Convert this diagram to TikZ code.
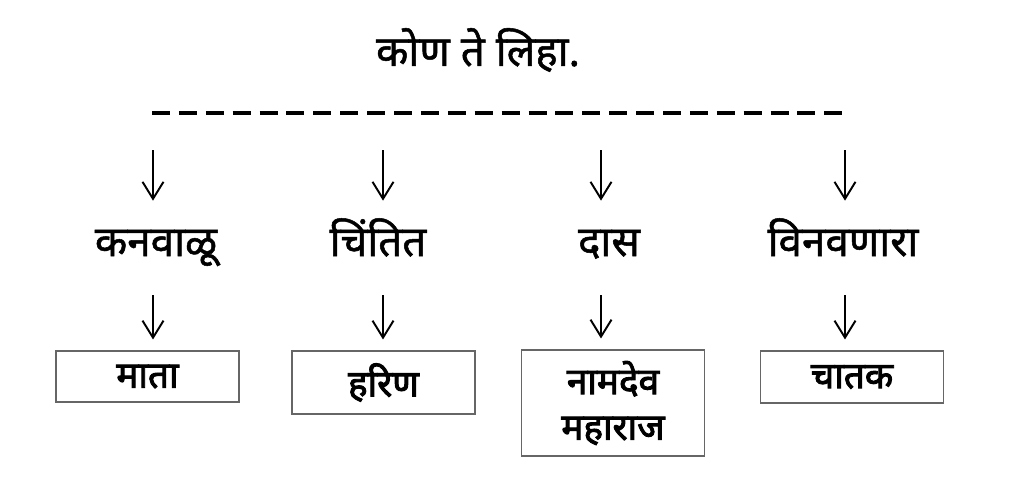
\documentclass[tikz,border=0pt]{standalone}
\usepackage{fontspec}
\setmainfont{Noto Sans}[Script=Devanagari, AutoFakeBold=2.6]
\newfontfamily\wordfont{Noto Sans}[Script=Devanagari, FakeBold=1.2]
\usetikzlibrary{arrows.meta}

\begin{document}
\begin{tikzpicture}[
        x=0.02cm, y=-0.02cm,
        heading/.style={font=\wordfont\fontsize{24}{28}\selectfont},
        word/.style={font=\wordfont\fontsize{24}{28}\selectfont, inner sep=0pt,
            anchor=base, text height=1.1cm, text depth=0.78cm},
        answer/.style={rectangle, draw=black!60, line width=0.6pt, minimum width=3.66cm,
            font=\bfseries\fontsize{21}{26}\selectfont, align=center},
        arrow/.style={-{Straight Barb[length=0.34cm, width=0.42cm]}, line width=1.1pt}
    ]
        \useasboundingbox (0,0) rectangle (1024,490);

        % Heading
        \node[heading] (title) at (478,50) {कोण ते लिहा.};

        % Dashed rule
        \coordinate (ruleL) at (152,113);
        \coordinate (ruleR) at (843,113);
        \draw[line width=2.8pt, dash pattern=on 0.36cm off 0.178cm] (ruleL) -- (ruleR);

        % Arrow starts below the rule
        \coordinate (t1) at (153,150);
        \coordinate (t2) at (383,150);
        \coordinate (t3) at (601,150);
        \coordinate (t4) at (845,150);

        % Words
        \node[word] (w1) at (156,256) {कनवाळू};
        \node[word] (w2) at (378,256) {चिंतित};
        \node[word] (w3) at (609,256) {दास};
        \node[word] (w4) at (843,256) {विनवणारा};

        % Answers
        \node[answer, minimum height=1.02cm] (a1) at (147.5,376.5) {माता};
        \node[answer, minimum height=1.26cm] (a2) at (383.5,382.5) {हरिण};
        \node[answer, minimum height=2.12cm] (a3) at (613,403) {नामदेव\\महाराज};
        \node[answer, minimum height=1.04cm] (a4) at (852,377) {चातक};

        % Arrows
        \draw[arrow] (t1) -- (t1 |- w1.north);
        \draw[arrow] (t2) -- (t2 |- w2.north);
        \draw[arrow] (t3) -- (t3 |- w3.north);
        \draw[arrow] (t4) -- (t4 |- w4.north);
        \draw[arrow, shorten >=0.22cm] (w1.south -| t1) -- (a1.north -| t1);
        \draw[arrow, shorten >=0.22cm] (w2.south -| t2) -- (a2.north -| t2);
        \draw[arrow, shorten >=0.22cm] (w3.south -| t3) -- (a3.north -| t3);
        \draw[arrow, shorten >=0.22cm] (w4.south -| t4) -- (a4.north -| t4);
    \end{tikzpicture}
\end{document}
